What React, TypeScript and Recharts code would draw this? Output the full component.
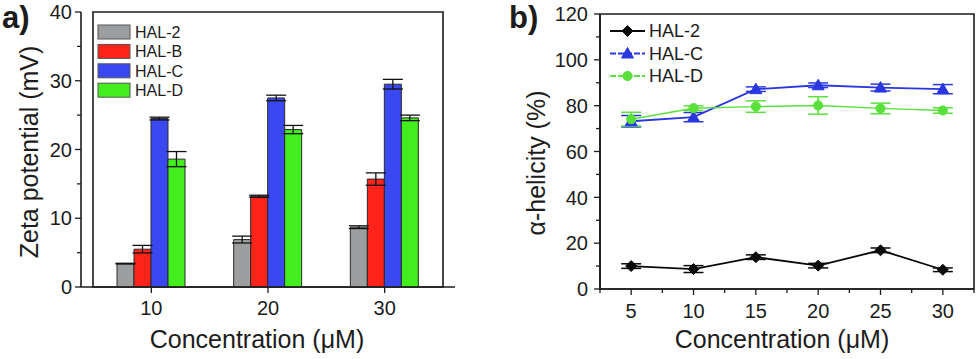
import React from 'react';
import {
  BarChart, Bar, LineChart, Line, XAxis, YAxis, ErrorBar, Legend, Label, ReferenceArea,
} from 'recharts';

const FONT = '"Liberation Sans", Arial, Helvetica, sans-serif';
const INK = '#1c1c1c';

// ---------- Panel a) data ----------
const concentrationsA = ['10', '20', '30'];
const hal2Zeta = [3.4, 6.9, 8.7];
const hal2ZetaErr = [0.05, 0.5, 0.2];
const halBZeta = [5.5, 13.2, 15.7];
const halBZetaErr = [0.55, 0.15, 0.9];
const halCZeta = [24.5, 27.5, 29.5];
const halCZetaErr = [0.2, 0.4, 0.7];
const halDZeta = [18.6, 22.9, 24.6];
const halDZetaErr = [1.1, 0.6, 0.4];
const zetaTicks = [0, 5, 10, 15, 20, 25, 30, 35, 40];

// ---------- Panel b) data ----------
const concentrationsB = [5, 10, 15, 20, 25, 30];
const hal2Helix = [10, 8.7, 13.9, 10.2, 16.9, 8.4];
const hal2HelixErr = [1, 1.5, 1, 1, 1, 0.8];
const halCHelix = [73.2, 75, 87.2, 88.9, 87.9, 87.2];
const halCHelixErr = [2.5, 2, 1, 1, 1.5, 2];
const halDHelix = [74.1, 78.9, 79.6, 80.1, 78.8, 77.9];
const halDHelixErr = [3, 1, 2.5, 3.8, 2.3, 1.2];
const helixYTicks = [0, 10, 20, 30, 40, 50, 60, 70, 80, 90, 100, 110, 120];
const helixXTicks = [2.5, 5, 7.5, 10, 12.5, 15, 17.5, 20, 22.5, 25, 27.5, 30, 32.5];

const zetaData = concentrationsA.map((c, i) => ({
  c,
  hal2: hal2Zeta[i], hal2Err: hal2ZetaErr[i],
  halB: halBZeta[i], halBErr: halBZetaErr[i],
  halC: halCZeta[i], halCErr: halCZetaErr[i],
  halD: halDZeta[i], halDErr: halDZetaErr[i],
}));

const helixData = concentrationsB.map((c, i) => ({
  c,
  hal2: hal2Helix[i], hal2Err: hal2HelixErr[i],
  halC: halCHelix[i], halCErr: halCHelixErr[i],
  halD: halDHelix[i], halDErr: halDHelixErr[i],
}));

const barSeries = [
  { key: 'hal2', name: 'HAL-2', fill: '#9c9ea0' },
  { key: 'halB', name: 'HAL-B', fill: '#ff2419' },
  { key: 'halC', name: 'HAL-C', fill: '#3a48f2' },
  { key: 'halD', name: 'HAL-D', fill: '#42ee1e' },
];

const lineSeries = [
  { key: 'hal2', name: 'HAL-2', color: '#0a0a0a', shape: 'diamond', dash: undefined as string | undefined },
  { key: 'halC', name: 'HAL-C', color: '#2a36e0', shape: 'triangle', dash: '6 2' },
  { key: 'halD', name: 'HAL-D', color: '#5ae03c', shape: 'circle', dash: '6 2' },
];

function makeYTick(majorStep: number, labelGap: number) {
  return (props: any) => {
    const { x, y, payload } = props;
    const v = Number(payload.value);
    const major = Math.abs(v % majorStep) < 1e-6;
    return (
      <g>
        <line x1={x} x2={x - (major ? 6 : 4)} y1={y} y2={y} stroke={INK} strokeWidth={1.3} />
        {major && (
          <text x={x - labelGap} y={y} dy="0.36em" textAnchor="end" fontSize={20} fontFamily={FONT} fill={INK}>
            {payload.value}
          </text>
        )}
      </g>
    );
  };
}

function makeXTick(isMajor: (v: any) => boolean, labelDy: number) {
  return (props: any) => {
    const { x, y, payload } = props;
    const major = isMajor(payload.value);
    return (
      <g>
        <line x1={x} x2={x} y1={y} y2={y + (major ? 6 : 4)} stroke={INK} strokeWidth={1.3} />
        {major && (
          <text x={x} y={y + labelDy} textAnchor="middle" fontSize={20} fontFamily={FONT} fill={INK}>
            {payload.value}
          </text>
        )}
      </g>
    );
  };
}

const ZetaLegend = () => (
  <svg width={130} height={95} style={{ display: 'block', overflow: 'visible' }}>
    {barSeries.map((s, i) => (
      <g key={s.key}>
        <rect x={8} y={7 + i * 19.4} width={32} height={14} fill={s.fill} stroke="#555" strokeWidth={1} />
        <text x={45} y={14 + i * 19.4} dy="0.36em" fontSize={16} fontFamily={FONT} fill={INK}>{s.name}</text>
      </g>
    ))}
  </svg>
);

function Marker({ shape, cx, cy, color, s = 1 }: any) {
  if (shape === 'diamond') {
    const r = 5.5 * s;
    return <polygon points={`${cx},${cy - r} ${cx + r},${cy} ${cx},${cy + r} ${cx - r},${cy}`} fill={color} stroke={color} />;
  }
  if (shape === 'triangle') {
    const r = 6 * s;
    return <polygon points={`${cx},${cy - r} ${cx + r},${cy + r * 0.75} ${cx - r},${cy + r * 0.75}`} fill={color} stroke={color} />;
  }
  return <circle cx={cx} cy={cy} r={4.6 * s} fill={color} stroke={color} />;
}

const HelixLegend = () => (
  <svg width={150} height={80} style={{ display: 'block', overflow: 'visible' }}>
    {lineSeries.map((s, i) => {
      const y = 13 + i * 22.5;
      return (
        <g key={s.key}>
          <line x1={10} x2={45} y1={y} y2={y} stroke={s.color} strokeWidth={1.8} strokeDasharray={s.dash} />
          <Marker shape={s.shape} cx={27.5} cy={y} color={s.color} />
          <text x={49} y={y} dy="0.36em" fontSize={18} fontFamily={FONT} fill={INK}>{s.name}</text>
        </g>
      );
    })}
  </svg>
);

function ZetaChart() {
  return (
    <BarChart
      width={490}
      height={359}
      data={zetaData}
      margin={{ top: 12, right: 35, bottom: 0, left: 0 }}
      barGap={0}
      barSize={17}
    >
      <ReferenceArea y1={0} y2={40} fill="none" stroke={INK} strokeWidth={1.6} ifOverflow="visible" />
      <XAxis
        dataKey="c"
        height={72}
        padding={{ left: 12, right: 12 }}
        axisLine={{ stroke: INK, strokeWidth: 1.6 }}
        tickLine={false}
        tickSize={0}
        tickMargin={0}
        interval={0}
        tick={makeXTick(() => true, 28)}
      >
        <Label
          content={() => (
            <g>
              <text x={257} y={348} textAnchor="middle" fontSize={25} fontFamily={FONT} fill={INK}>
                Concentration (μM)
              </text>
              <text x={2} y={28} fontSize={31} fontWeight="bold" fontFamily={FONT} fill={INK}>a)</text>
            </g>
          )}
        />
      </XAxis>
      <YAxis
        width={81}
        domain={[0, 40]}
        ticks={zetaTicks}
        interval={0}
        axisLine={{ stroke: INK, strokeWidth: 1.6 }}
        tickLine={false}
        tickSize={0}
        tickMargin={0}
        tick={makeYTick(10, 9)}
      >
        <Label
          content={() => (
            <text transform="translate(38,152) rotate(-90)" textAnchor="middle" fontSize={25} fontFamily={FONT} fill={INK}>
              Zeta potential (mV)
            </text>
          )}
        />
      </YAxis>
      <Legend
        layout="vertical"
        align="center"
        verticalAlign="middle"
        content={() => <ZetaLegend />}
        wrapperStyle={{ left: 90, top: 18, width: 130, height: 95 }}
      />
      {barSeries.map((s) => (
        <Bar key={s.key} dataKey={s.key} name={s.name} fill={s.fill} stroke="#2a2a2a" strokeWidth={1} isAnimationActive={false}>
          <ErrorBar dataKey={`${s.key}Err`} width={10} stroke="#111" strokeWidth={1.3} direction="y" />
        </Bar>
      ))}
    </BarChart>
  );
}

function HelixChart() {
  return (
    <LineChart
      width={490}
      height={359}
      data={helixData}
      margin={{ top: 14, right: 6, bottom: 0, left: 0 }}
    >
      <ReferenceArea x1={2.5} x2={32.5} y1={0} y2={120} fill="none" stroke={INK} strokeWidth={1.6} ifOverflow="visible" />
      <XAxis
        dataKey="c"
        type="number"
        domain={[2.5, 32.5]}
        ticks={helixXTicks}
        allowDataOverflow
        height={70}
        interval={0}
        axisLine={{ stroke: INK, strokeWidth: 1.6 }}
        tickLine={false}
        tickSize={0}
        tickMargin={0}
        tick={makeXTick((v: any) => Number(v) % 5 === 0, 29)}
      >
        <Label
          content={() => (
            <g>
              <text x={292} y={348} textAnchor="middle" fontSize={25} fontFamily={FONT} fill={INK}>
                Concentration (μM)
              </text>
              <text x={19} y={28} fontSize={31} fontWeight="bold" fontFamily={FONT} fill={INK}>b)</text>
            </g>
          )}
        />
      </XAxis>
      <YAxis
        width={110}
        domain={[0, 120]}
        ticks={helixYTicks}
        interval={0}
        axisLine={{ stroke: INK, strokeWidth: 1.6 }}
        tickLine={false}
        tickSize={0}
        tickMargin={0}
        tick={makeYTick(20, 12)}
      >
        <Label
          content={() => (
            <text transform="translate(55,163) rotate(-90)" textAnchor="middle" fontSize={25} fontFamily={FONT} fill={INK}>
              α-helicity (%)
            </text>
          )}
        />
      </YAxis>
      <Legend
        layout="vertical"
        align="center"
        verticalAlign="middle"
        content={() => <HelixLegend />}
        wrapperStyle={{ left: 110, top: 18, width: 150, height: 80 }}
      />
      {lineSeries.map((s) => (
        <Line
          key={s.key}
          dataKey={s.key}
          name={s.name}
          stroke={s.color}
          strokeWidth={s.key === 'halD' ? 1.4 : 1.8}
          isAnimationActive={false}
          dot={(p: any) => <Marker key={`${s.key}-${p.index}`} shape={s.shape} cx={p.cx} cy={p.cy} color={s.color} />}
          activeDot={false}
        >
          <ErrorBar dataKey={`${s.key}Err`} width={10} stroke={s.color} strokeWidth={1.5} direction="y" />
        </Line>
      ))}
    </LineChart>
  );
}

export default function App() {
  return (
    <div style={{ position: 'absolute', left: 0, top: 0, width: 980, height: 359, background: '#fff', fontFamily: FONT }}>
      <div style={{ position: 'absolute', left: 0, top: 0 }}>
        <ZetaChart />
      </div>
      <div style={{ position: 'absolute', left: 490, top: 0 }}>
        <HelixChart />
      </div>
    </div>
  );
}
